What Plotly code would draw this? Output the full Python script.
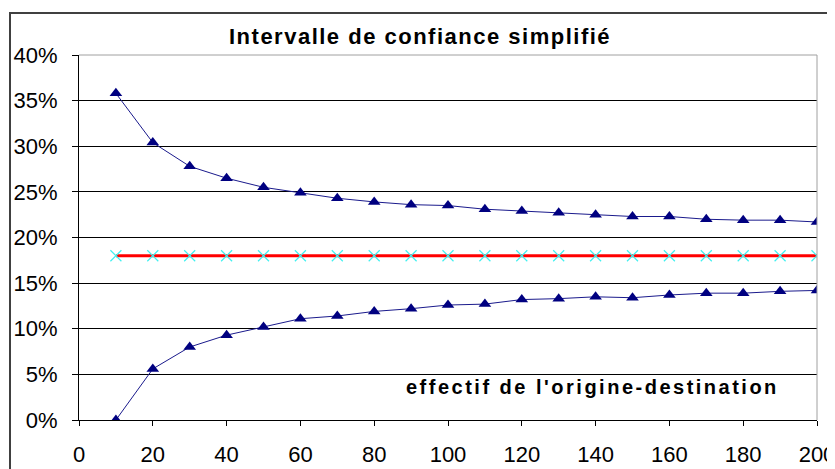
import plotly.graph_objects as go

effectif = [10, 20, 30, 40, 50, 60, 70, 80, 90, 100, 110, 120, 130, 140, 150, 160, 170, 180, 190, 200]
borne_sup = [35.8, 30.4, 27.8, 26.5, 25.5, 24.9, 24.3, 23.9, 23.6, 23.5, 23.1, 22.9, 22.7, 22.5, 22.3, 22.3, 22.0, 21.9, 21.9, 21.7]
borne_inf = [0.0, 5.6, 8.0, 9.3, 10.2, 11.1, 11.4, 11.9, 12.2, 12.6, 12.7, 13.2, 13.3, 13.5, 13.4, 13.7, 13.9, 13.9, 14.1, 14.2]
proportion = [18.0] * len(effectif)

x_ticks = list(range(0, 201, 20))
y_ticks = [0, 0.05, 0.10, 0.15, 0.20, 0.25, 0.30, 0.35, 0.40]

FONT = "Liberation Sans, Arial, sans-serif"

# page body has an 8px margin: plot area spans x 79..817, y 55..420 on screen
L, T, R, B = 71, 47, 18, 49
PW, PH = 738, 365

def px(xs):
    return (xs - 79) / PW

def py(ys):
    return (420 - ys) / PH

fig = go.Figure()
fig.add_trace(go.Scatter(
    x=effectif, y=[v / 100 for v in proportion], mode="lines+markers",
    line=dict(color="#ff0000", width=3),
    marker=dict(symbol="x-thin", size=11, color="#40f0f0", line=dict(color="#40f0f0", width=1.2)),
    showlegend=False))
fig.add_trace(go.Scatter(
    x=effectif, y=[v / 100 for v in borne_sup], mode="lines+markers",
    line=dict(color="#1a1a8c", width=1),
    marker=dict(symbol="triangle-up", size=11, color="#000080"),
    showlegend=False))
fig.add_trace(go.Scatter(
    x=effectif, y=[v / 100 for v in borne_inf], mode="lines+markers",
    line=dict(color="#1a1a8c", width=1),
    marker=dict(symbol="triangle-up", size=11, color="#000080"),
    showlegend=False))

fig.update_layout(
    width=827, height=461,
    margin=dict(l=L, r=R, t=T, b=B),
    paper_bgcolor="white", plot_bgcolor="white",
    font=dict(family=FONT, color="black"),
    xaxis=dict(range=[0, 200], tickvals=x_ticks, ticks="outside", ticklen=5, tickcolor="black",
               showline=True, linecolor="black", linewidth=1, showgrid=False, zeroline=False,
               automargin=False, ticklabeloverflow="allow",
               ticklabelstandoff=10, tickfont=dict(size=22, family=FONT)),
    yaxis=dict(range=[0, 0.40], tickvals=y_ticks, tickformat=".0%", ticks="outside", ticklen=6,
               tickcolor="black", showline=True, linecolor="black", linewidth=1,
               showgrid=True, gridcolor="black", gridwidth=1, zeroline=False,
               automargin=False, ticklabeloverflow="allow",
               ticklabelstandoff=10, tickfont=dict(size=22, family=FONT)),
    annotations=[
        dict(text="<span style='letter-spacing:1.5px'><b>Intervalle de confiance simplifié</b></span>",
             xref="paper", yref="paper",
             x=px(420), y=py(36), xanchor="center", yanchor="middle",
             showarrow=False, font=dict(size=22, family=FONT, color="black")),
        dict(text="<span style='letter-spacing:2.5px'><b>effectif de l'origine-destination</b></span>",
             xref="paper", yref="paper",
             x=px(592), y=py(387), xanchor="center", yanchor="middle",
             showarrow=False, font=dict(size=20, family=FONT, color="black")),
    ],
    shapes=[
        dict(type="rect", xref="paper", yref="paper",
             x0=px(10), x1=1.2, y0=-0.3, y1=py(13),
             line=dict(color="#404040", width=2), layer="below"),
        dict(type="line", xref="paper", yref="paper", x0=0, x1=1, y0=1, y1=1,
             line=dict(color="#a0a0a0", width=1), layer="above"),
        dict(type="line", xref="paper", yref="paper", x0=1, x1=1, y0=0, y1=1,
             line=dict(color="#a0a0a0", width=1), layer="above"),
    ],
)

fig.write_html("out.html")
